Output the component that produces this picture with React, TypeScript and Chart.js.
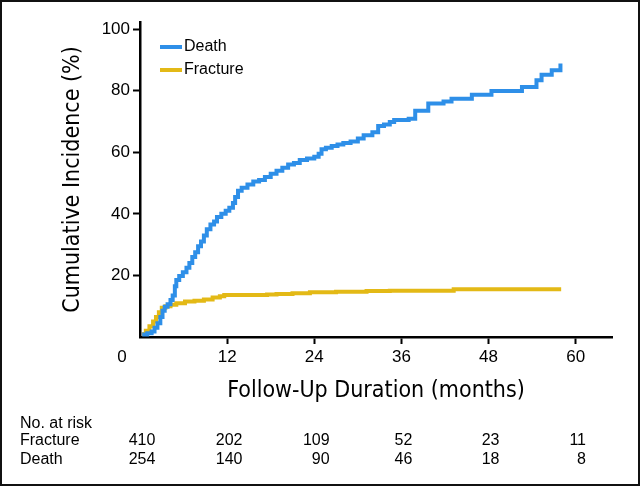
import React, { useEffect, useRef } from "react";
import { Chart, registerables } from "chart.js";

Chart.register(...registerables);

const deathMonths = [0.3, 1.0, 1.6, 2.0, 2.4, 2.8, 3.1, 3.4, 3.8, 4.2, 4.5, 4.8, 5.0, 5.4, 5.9, 6.4, 6.8, 7.2, 7.6, 8.0, 8.4, 8.8, 9.2, 9.7, 10.2, 10.6, 11.2, 11.8, 12.3, 12.8, 13.1, 13.5, 14.0, 14.8, 15.6, 16.4, 17.2, 18.0, 18.8, 19.6, 20.4, 21.2, 22.0, 23.0, 24.0, 24.6, 25.0, 25.6, 26.4, 27.2, 28.0, 29.0, 30.0, 30.8, 32.0, 32.8, 33.6, 34.4, 35.0, 37.0, 37.9, 39.7, 41.8, 42.9, 45.7, 48.4, 52.6, 54.6, 55.3, 56.7, 57.9];
const deathIncidence = [0.8, 1.2, 1.8, 3.0, 4.5, 6.5, 8.5, 9.8, 10.6, 12.0, 13.5, 16.5, 18.5, 19.8, 21.0, 22.5, 24.0, 26.0, 27.5, 29.5, 31.0, 33.0, 35.0, 36.5, 37.5, 39.0, 40.0, 41.0, 42.0, 43.5, 45.5, 47.5, 48.5, 49.5, 50.5, 51.0, 52.0, 53.0, 54.0, 55.0, 56.0, 56.5, 57.5, 58.0, 58.5, 59.5, 61.0, 61.5, 62.0, 62.5, 63.0, 63.5, 64.5, 65.5, 66.5, 68.5, 69.0, 69.8, 70.5, 70.9, 73.5, 75.8, 76.5, 77.4, 78.7, 79.9, 81.2, 83.4, 85.2, 86.6, 88.8];

const fractureMonths = [0.3, 0.8, 1.3, 1.8, 2.2, 2.6, 3.0, 3.5, 4.2, 5.0, 6.2, 7.5, 8.8, 10.0, 11.0, 11.6, 17.5, 18.8, 21.0, 23.4, 27.0, 31.2, 34.4, 43.2, 58.0];
const fractureIncidence = [1.0, 2.0, 3.5, 5.0, 6.5, 8.0, 9.5, 10.0, 10.5, 11.0, 11.5, 11.8, 12.2, 12.8, 13.2, 13.6, 13.8, 14.0, 14.2, 14.5, 14.7, 14.9, 15.0, 15.5, 15.5];

const xTicks = [12, 24, 36, 48, 60];
const yTicks = [20, 40, 60, 80, 100];

const riskTimes = [0, 12, 24, 36, 48, 60];
const fractureAtRisk = [410, 202, 109, 52, 23, 11];
const deathAtRisk = [254, 140, 90, 46, 18, 8];

const seriesNames = ["Death", "Fracture"];
const seriesColors = ["#2E8FE8", "#E3B916"];

const TITLE_FONT = "'Liberation Sans Narrow', 'DejaVu Sans Condensed', sans-serif";
const BODY_FONT = "'Liberation Sans', Arial, sans-serif";

export default function App() {
  const ref = useRef<HTMLCanvasElement | null>(null);

  useEffect(() => {
    if (!ref.current) return;

    const extras = {
      id: "extras",
      afterDraw(chart: any) {
        const ctx = chart.ctx;
        const xs = chart.scales.x;
        ctx.save();
        ctx.fillStyle = "#000";
        // "0" label at origin
        ctx.font = `17px ${BODY_FONT}`;
        ctx.textAlign = "center";
        ctx.textBaseline = "middle";
        ctx.fillText("0", 120, 355);

        // legend
        ctx.font = `16px ${BODY_FONT}`;
        ctx.textAlign = "left";
        const legendY = [45, 68];
        seriesNames.forEach((name, i) => {
          ctx.strokeStyle = seriesColors[i];
          ctx.lineWidth = 4;
          ctx.beginPath();
          ctx.moveTo(158, legendY[i]);
          ctx.lineTo(180, legendY[i]);
          ctx.stroke();
          ctx.fillStyle = "#000";
          ctx.fillText(name, 182, legendY[i]);
        });

        // number at risk table
        ctx.font = `16px ${BODY_FONT}`;
        ctx.textAlign = "left";
        ctx.fillText("No. at risk", 18, 422);
        ctx.fillText("Fracture", 18, 439);
        ctx.fillText("Death", 18, 458);
        riskTimes.forEach((t, i) => {
          const px = xs.getPixelForValue(t) + 2;
          const fs = String(fractureAtRisk[i]);
          const w = ctx.measureText(fs).width;
          ctx.textAlign = "center";
          ctx.fillText(fs, px, 439);
          ctx.textAlign = "right";
          ctx.fillText(String(deathAtRisk[i]), px + w / 2, 458);
        });
        ctx.restore();
      },
    };

    const chart = new Chart(ref.current, {
      type: "line",
      data: {
        datasets: [
          {
            label: seriesNames[0],
            data: deathMonths.map((m, i) => ({ x: m, y: deathIncidence[i] })),
            borderColor: seriesColors[0],
            backgroundColor: seriesColors[0],
            borderWidth: 4,
            pointRadius: 0,
            stepped: "before",
            fill: false,
          },
          {
            label: seriesNames[1],
            data: fractureMonths.map((m, i) => ({ x: m, y: fractureIncidence[i] })),
            borderColor: seriesColors[1],
            backgroundColor: seriesColors[1],
            borderWidth: 4,
            pointRadius: 0,
            stepped: "before",
            fill: false,
          },
        ],
      },
      options: {
        animation: false,
        responsive: false,
        layout: { padding: { left: 0, top: 20, right: 26, bottom: 77 } },
        plugins: { legend: { display: false }, tooltip: { enabled: false } },
        scales: {
          x: {
            type: "linear",
            min: 0,
            max: 65,
            afterBuildTicks: (s: any) => {
              s.ticks = xTicks.map((v) => ({ value: v }));
            },
            afterFit: (s: any) => {
              s.height = 70;
            },
            grid: {
              drawOnChartArea: false,
              drawTicks: true,
              tickLength: 7,
              tickWidth: 2,
              tickColor: "#000",
            },
            border: { display: true, color: "#000", width: 2.5 },
            ticks: {
              color: "#000",
              font: { family: BODY_FONT, size: 17 },
              padding: 3,
              maxRotation: 0,
            },
            title: {
              display: true,
              text: "Follow-Up Duration (months)",
              color: "#000",
              font: { family: TITLE_FONT, size: 23 },
              padding: { top: 0, bottom: 2 },
            },
          },
          y: {
            type: "linear",
            min: 0,
            max: 102.3,
            afterBuildTicks: (s: any) => {
              s.ticks = yTicks.map((v) => ({ value: v }));
            },
            afterFit: (s: any) => {
              s.width = 138;
            },
            grid: {
              drawOnChartArea: false,
              drawTicks: true,
              tickLength: 7,
              tickWidth: 2,
              tickColor: "#000",
            },
            border: { display: true, color: "#000", width: 2.5 },
            ticks: {
              color: "#000",
              font: { family: BODY_FONT, size: 17 },
              padding: 3,
            },
            title: {
              display: true,
              text: "Cumulative Incidence (%)",
              color: "#000",
              font: { family: TITLE_FONT, size: 23 },
              padding: { top: 57, bottom: 0 },
            },
          },
        },
      },
      plugins: [extras],
    });

    return () => chart.destroy();
  }, []);

  return (
    <div
      style={{
        position: "absolute",
        left: 0,
        top: 0,
        width: 640,
        height: 486,
        border: "2px solid #111",
        boxSizing: "border-box",
        background: "#fff",
      }}
    >
      <canvas ref={ref} width={636} height={482} style={{ display: "block", width: 636, height: 482 }} />
    </div>
  );
}
